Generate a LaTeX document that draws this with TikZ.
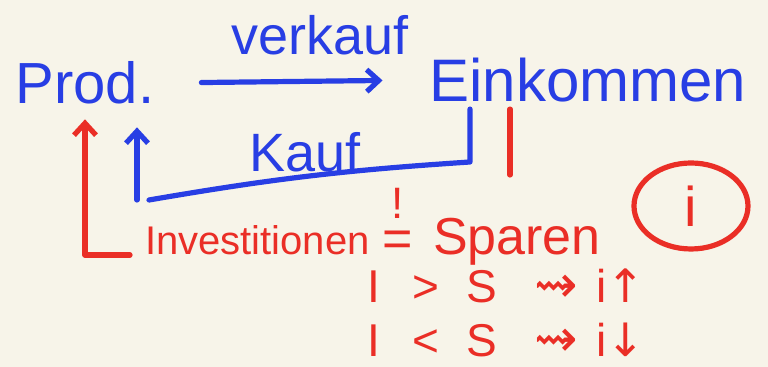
\documentclass[tikz,border=0pt]{standalone}
\usepackage{fontspec}
\setmainfont{Liberation Sans}
\newfontfamily\symfont{DejaVu Sans}
\usetikzlibrary{positioning,shapes.geometric,arrows.meta}
\definecolor{penblue}{RGB}{40,62,228}
\definecolor{penred}{RGB}{234,46,38}
\definecolor{paper}{RGB}{247,244,233}
\tikzset{
  bluepen/.style={penblue,line width=2.6pt,line cap=round,line join=round},
  redpen/.style={penred,line width=2.6pt,line cap=round,line join=round},
  pentip/.style={-{Straight Barb[length=6pt,width=11pt]}},
  big/.style={font=\fontsize{#1}{#1}\selectfont},
}
\newcommand{\leadsym}{\smash{\symfont\fontsize{26}{26}\selectfont ⇝}}
\begin{document}
\begin{tikzpicture}[x=0.5pt,y=-0.5pt]
  \fill[paper] (0,0) rectangle (768,367);
  \useasboundingbox (0,0) rectangle (768,367);
  % Produktion -> Einkommen
  \node[text=penblue,big=29] (prod) at (85,83) {Prod.};
  \node[text=penblue,big=30] (eink) at (588,80) {Einkommen};
  \node[text=penblue,big=27] (verkauf) at (320,35) {verkauf};
  \draw[bluepen,pentip,shorten <=20pt,shorten >=20pt] (prod.east) -- (eink.west);
  % Kauf (zurueck)
  \coordinate (kr) at (470,162);
  \coordinate (kl) at (137,200);
  \draw[bluepen] (kr |- eink.south) -- (kr) to[bend right=3] ([xshift=6pt]kl);
  \draw[bluepen,pentip,shorten >=8pt] (kl) -- (kl |- prod.south);
  \node[text=penblue,big=27] (kauf) at (305,152) {Kauf};
  % Investitionen = Sparen
  \node[text=penred,big=20,anchor=base west] (invest) at (138,255) {Investitionen};
  \node[text=penred,big=26,inner sep=0pt] (equal) at (398,244) {=};
  \node[text=penred,big=22,inner sep=0pt,above=6pt of equal] (mark) {!};
  \node[text=penred,big=26,anchor=base west] (sparen) at (426,255) {Sparen};
  \node[ellipse,draw=penred,line width=2.6pt,text=penred,big=28,
    minimum width=57pt,minimum height=43pt] (zins) at (691,206) {i};
  \draw[redpen,pentip,shorten <=4pt,shorten >=4pt] (invest.base west) -| (prod.south);
  \coordinate (sx) at (510,175);
  \draw[redpen] (sx |- eink.south) -- (sx);
  % Zins
  \node[text=penred,big=23,inner sep=0pt] (rowup) at (506,286)
    {I\hspace{0.7em}>\hspace{0.6em}S\hspace{0.8em}\leadsym\hspace{0.4em}i{\symfont ↑}};
  \node[text=penred,big=23,inner sep=0pt] (rowdown) at (506,340)
    {I\hspace{0.7em}<\hspace{0.6em}S\hspace{0.8em}\leadsym\hspace{0.4em}i{\symfont ↓}};
\end{tikzpicture}
\end{document}
